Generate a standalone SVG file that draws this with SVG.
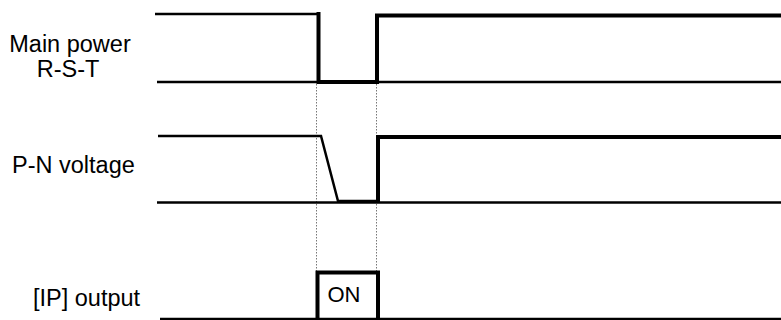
<svg xmlns="http://www.w3.org/2000/svg" width="781" height="320" viewBox="0 0 781 320">
<defs>
<style>
text{font-family:"Liberation Sans",Arial,sans-serif;font-size:23.5px;fill:#000}
.on{font-size:22px}
.base{stroke:#000;stroke-width:2.5;fill:none}
.sig{stroke:#000;stroke-width:4;fill:none;stroke-linejoin:miter;stroke-linecap:square}
.thin{stroke:#000;stroke-width:2.5;fill:none}
.dot{stroke:#777;stroke-width:1;stroke-dasharray:1.5 1.5;fill:none}
</style>
</defs>
<rect width="781" height="320" fill="#fff"/>
<g id="labels">
<text x="70" y="52" text-anchor="middle">Main power</text>
<text x="68" y="77" text-anchor="middle">R-S-T</text>
<text x="12" y="173">P-N voltage</text>
<text x="33" y="306">[IP] output</text>
</g>
<g id="connectors">
<line class="dot" x1="316.5" y1="84" x2="316.5" y2="272"/>
<line class="dot" x1="376.5" y1="84" x2="376.5" y2="272"/>
</g>
<g id="main-power">
<line class="base" x1="157" y1="82" x2="781" y2="82"/>
<line class="thin" x1="155" y1="14" x2="318" y2="14"/>
<polyline class="sig" points="318.5,14 318.5,82 377,82 377,15.5 781,15.5"/>
</g>
<g id="pn-voltage">
<line class="base" x1="157" y1="202.5" x2="781" y2="202.5"/>
<polyline class="thin" points="158,136 321,136 338,201 377,201"/>
<polyline class="sig" points="378,201 378,137 781,137"/>
</g>
<g id="ip-output">
<line class="base" x1="160" y1="319" x2="781" y2="319"/>
<polyline class="sig" points="317.5,318 317.5,272.5 378,272.5 378,318"/>
<text class="on" x="344" y="302" text-anchor="middle">ON</text>
</g>
</svg>
